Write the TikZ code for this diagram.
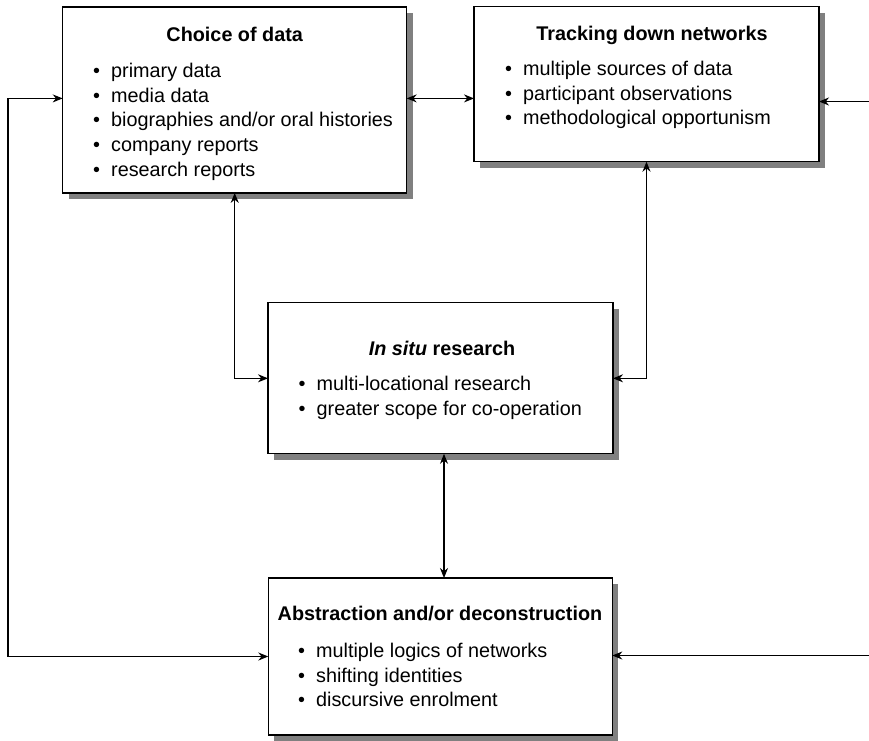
\documentclass[tikz,border=0pt]{standalone}
\usepackage{fontspec}
\setmainfont{Liberation Sans}
\usetikzlibrary{shadows,arrows.meta}
\newcommand{\itm}{\makebox[18pt][l]{\textbullet}}
\begin{document}
\begin{tikzpicture}[x=1pt,y=-1pt,
  box/.style={draw=black, line width=1.3pt, fill=white, inner sep=0pt, outer sep=0pt,
    drop shadow={shadow xshift=6pt, shadow yshift=-6pt, fill=black!50, opacity=1}},
  ttl/.style={font=\fontsize{19.8}{24.7}\selectfont\bfseries, anchor=base, inner sep=0pt},
  lst/.style={font=\fontsize{19.8}{24.7}\selectfont, align=left, anchor=north west, inner sep=0pt},
  biarrow/.style={line width=1.1pt, {Stealth[length=10pt,width=8pt]}-{Stealth[length=10pt,width=8pt]}},
  onearrow/.style={line width=1.1pt, -{Stealth[length=10pt,width=8pt]}}]
\useasboundingbox (0,0) rectangle (869,740);

% boxes
\node[box, minimum width=344pt, minimum height=186pt] (A) at (234.7,99.9) {};
\node[box, minimum width=345pt, minimum height=155pt] (B) at (646.5,84.2) {};
\node[box, minimum width=345pt, minimum height=151pt] (C) at (440.5,378.3) {};
\node[box, minimum width=344pt, minimum height=157pt] (D) at (440.3,656.5) {};

% texts
\node[ttl] (At) at (234.7,41) {Choice of data};
\node[lst] (Al) at (93,63) {\itm primary data\\ \itm media data\\ \itm biographies and/or oral histories\\ \itm company reports\\ \itm research reports};

\node[ttl] (Bt) at (652,40) {Tracking down networks};
\node[lst] (Bl) at (505,61) {\itm multiple sources of data\\ \itm participant observations\\ \itm methodological opportunism};

\node[ttl] (Ct) at (442,355) {\textit{In situ} research};
\node[lst] (Cl) at (298.5,376) {\itm multi-locational research\\ \itm greater scope for co-operation};

\node[ttl] (Dt) at (440,620) {Abstraction and/or deconstruction};
\node[lst] (Dl) at (298,643) {\itm multiple logics of networks\\ \itm shifting identities\\ \itm discursive enrolment};

% connectors
\coordinate (rB) at (869,101.5);
\coordinate (rD) at (869,655.5);
\coordinate (lx) at (8,0);
\draw[biarrow] ([yshift=1.5pt]A.east) -- ([yshift=1.5pt]A.east -| B.west);
\draw[biarrow] (A.south) |- (C.west);
\draw[biarrow] (B.south) |- (C.east);
\draw[biarrow] ([xshift=3.5pt]C.south) -- ([xshift=3.5pt]C.south |- D.north);
\draw[biarrow] ([yshift=1.5pt]A.west) -- ([yshift=1.5pt]A.west -| lx) |- (D.west);
\draw[onearrow] (rB) -- (rB -| B.east);
\draw[onearrow] (rD) -- (rD -| D.east);
\end{tikzpicture}
\end{document}
